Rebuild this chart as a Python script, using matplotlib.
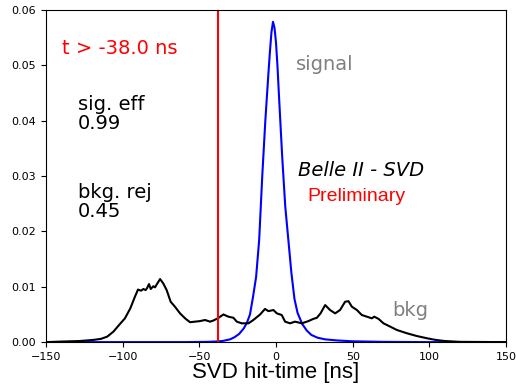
import matplotlib
matplotlib.use("Agg")
import matplotlib.pyplot as plt

# signal shape
sig_t = [-150, -60, -45, -40, -35, -30, -27, -24, -21, -19, -17, -15, -13, -11,
         -9, -7, -5, -4, -3, -2, -1, 0, 1, 2, 4, 6, 8, 10, 12, 14, 17, 20, 23,
         27, 32, 40, 50, 70, 100, 150]
sig_y = [0, 0, 0.00005, 0.0001, 0.0002, 0.0005, 0.0009, 0.0015, 0.0025, 0.0035,
         0.0050, 0.0082, 0.0118, 0.0185, 0.0300, 0.0400, 0.0485, 0.0525, 0.0560,
         0.0579, 0.0568, 0.0540, 0.0495, 0.0440, 0.0335, 0.0245, 0.0185, 0.0125,
         0.0078, 0.0053, 0.0033, 0.0021, 0.0013, 0.0008, 0.0005, 0.0003, 0.00015,
         0.00005, 0, 0]

# background shape
bkg_t = [-150, -140, -128, -119, -114, -110, -106, -102, -98.5, -95, -92, -90,
         -88, -86.5, -85, -84, -82.8, -81.7, -80, -78.9, -77.4, -75.6, -73.5,
         -71.3, -68.7, -65.9, -62.6, -59.3, -56.1, -52.8, -49.6, -46.3, -43,
         -40.9, -38, -34.3, -31.1, -27.8, -25.6, -22.4, -18, -14.8, -10.4, -7.2,
         -5, -1.7, 0.5, 3.7, 5.9, 9.1, 12.4, 16.8, 21.1, 24.3, 26.6, 29, 32,
         35.2, 38.5, 41.7, 45, 47.2, 49.4, 52.7, 55.9, 59.2, 62.4, 64, 66.8, 70,
         74.4, 78.7, 85.3, 91.8, 98.3, 104, 110, 120, 150]
bkg_y = [0, 0.0001, 0.0002, 0.0004, 0.0006, 0.0010, 0.0019, 0.0032, 0.0043,
         0.0061, 0.0082, 0.0095, 0.0093, 0.0096, 0.0094, 0.0098, 0.0105, 0.0096,
         0.0101, 0.0099, 0.0106, 0.0114, 0.0106, 0.0094, 0.0073, 0.0064, 0.0052,
         0.0043, 0.0036, 0.0037, 0.0038, 0.0040, 0.0037, 0.0039, 0.0043, 0.0050,
         0.0046, 0.0044, 0.0037, 0.0034, 0.0034, 0.0040, 0.0050, 0.0060, 0.0056,
         0.0058, 0.0052, 0.0049, 0.0037, 0.0034, 0.0037, 0.0034, 0.0038, 0.0042,
         0.0044, 0.0052, 0.0067, 0.0058, 0.0052, 0.0058, 0.0073, 0.0074, 0.0064,
         0.0058, 0.0049, 0.0046, 0.0043, 0.0046, 0.0042, 0.0034, 0.0028, 0.0022,
         0.0016, 0.0011, 0.0007, 0.0004, 0.0002, 0.00005, 0]

t_cut = -38.0
sig_eff = 0.99
bkg_rej = 0.45

fig = plt.figure(figsize=(5.16, 3.91), dpi=100)
ax = fig.add_axes([0.089, 0.125, 0.892, 0.849])

ax.plot(sig_t, sig_y, color='blue', lw=1.5)
ax.plot(bkg_t, bkg_y, color='black', lw=1.5)
ax.axvline(t_cut, color='red', lw=1.5)

ax.set_xlim(-150, 150)
ax.set_ylim(0, 0.06)
ax.tick_params(labelsize=8)
ax.set_xlabel("SVD hit-time [ns]", fontsize=16, family='Liberation Sans', labelpad=0)

ax.text(-139.6, 0.0531, f"t > {t_cut:.1f} ns", color='red', fontsize=14, va='center')
ax.text(-129, 0.0412, f"sig. eff\n{sig_eff:.2f}", fontsize=14, va='center', linespacing=1.0)
ax.text(-129, 0.0253, f"bkg. rej\n{bkg_rej:.2f}", fontsize=14, va='center', linespacing=1.0)
ax.text(13, 0.0501, "signal", color='gray', fontsize=14, va='center')
ax.text(75.5, 0.0058, "bkg", color='gray', fontsize=14, va='center')
ax.text(14.4, 0.0311, "Belle II - SVD", fontsize=14, style='italic', va='center')
ax.text(20.2, 0.0264, "Preliminary", color='red', fontsize=14, family='Liberation Sans', va='center')

fig.savefig("out.png", dpi=100)
